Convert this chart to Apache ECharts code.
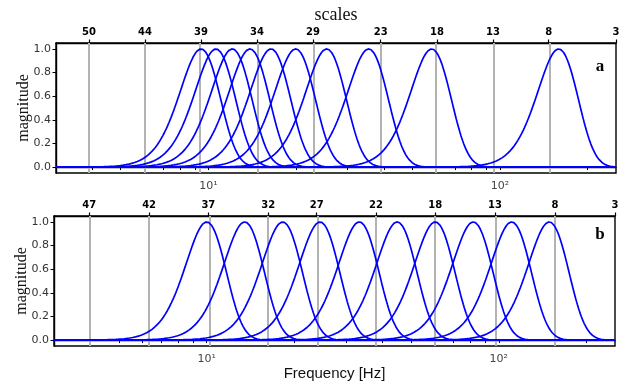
<!DOCTYPE html>
<html>
<head>
<meta charset="utf-8">
<script src="https://cdn.jsdelivr.net/npm/echarts@6/dist/echarts.min.js"></script>
<style>
  html, body { margin: 0; padding: 0; background: #ffffff; }
  #chart { width: 628px; height: 383px; }
</style>
</head>
<body>
<div id="chart"></div>
<script>
// ---------------- data ----------------
const freqMin = 3;      // Hz, left edge of both panels
const freqMax = 250;    // Hz, right edge of both panels

// centre frequencies (Hz) of the filter responses
const centersA = [9.43, 10.61, 12.07, 13.88, 16.39, 19.92, 25.44, 35.45, 58.3, 159.0];
const centersB = [10.0, 13.49, 18.20, 24.43, 33.3, 44.9, 60.6, 81.8, 110.7, 148.9];
// relative bandwidth (sigma / centre frequency) of the gaussian responses
const bandwidthA = 0.16;
const bandwidthB = 0.16;

// top "scales" axis: labels and the frequencies where they sit
const scaleLabelsA = ['50', '44', '39', '34', '29', '23', '18', '13', '8', '3'];
const scaleFreqsA  = [3.89, 6.06, 9.43, 14.67, 22.84, 38.98, 60.8, 94.6, 146.9, 250];
const scaleLabelsB = ['47', '42', '37', '32', '27', '22', '18', '13', '8', '3'];
const scaleFreqsB  = [3.96, 6.35, 10.13, 16.25, 23.8, 37.97, 60.6, 97.0, 155.8, 250];

// bottom frequency axis ticks
const majorFreqTicks  = [10, 100];
const majorFreqLabels = ['10\u00b9', '10\u00b2'];
const minorFreqTicks  = [3, 4, 5, 6, 7, 8, 9, 20, 30, 40, 50, 60, 70, 80, 90, 200];

// magnitude axis
const yTicks = [0, 0.2, 0.4, 0.6, 0.8, 1.0];
const yMin = -0.05, yMax = 1.05;

// ---------------- helpers ----------------
const L = Math.log10;
const uMin = L(freqMin), uMax = L(freqMax);
const nSamples = 600;
const sampleU = [];
for (let i = 0; i < nSamples; i++) sampleU.push(uMin + (uMax - uMin) * i / (nSamples - 1));

function response(f, fc, bw) {          // gaussian (Morlet-like) response in linear frequency
  const d = (f - fc) / (bw * fc);
  return Math.exp(-0.5 * d * d);
}
function curve(fc, bw) {
  return sampleU.map(u => [u, response(Math.pow(10, u), fc, bw)]);
}
function nearestLabel(v, freqs, labels) {
  let best = 0, bd = Infinity;
  freqs.forEach((f, i) => { const d = Math.abs(L(f) - v); if (d < bd) { bd = d; best = i; } });
  return labels[best];
}

const tickFont = 'DejaVu Sans';
const spine = { show: true, lineStyle: { color: '#000', width: 1.4 } };

function bottomAxis(gridIndex, withName) {
  const ax = {
    type: 'value', gridIndex, position: 'bottom', min: uMin, max: uMax,
    axisLine: spine,
    splitLine: { show: false },
    axisTick: { show: true, length: 3, lineStyle: { color: '#000', width: 1 },
      customValues: majorFreqTicks.concat(minorFreqTicks).map(L) },
    axisLabel: { show: true, margin: 8, color: '#444', fontFamily: tickFont, fontSize: 11,
      customValues: majorFreqTicks.map(L),
      formatter: v => majorFreqLabels[Math.abs(v - 1) < 0.01 ? 0 : 1] }
  };
  if (withName) {
    ax.name = 'Frequency [Hz]';
    ax.nameLocation = 'middle';
    ax.nameGap = 19;
    ax.nameTextStyle = { fontFamily: 'Liberation Sans', fontSize: 15, color: '#111' };
  }
  return ax;
}
function topAxis(gridIndex, freqs, labels, withName) {
  const ax = {
    type: 'value', gridIndex, position: 'top', min: uMin, max: uMax,
    axisLine: spine,
    splitLine: { show: false },
    axisTick: { show: true, length: 3.5, lineStyle: { color: '#000', width: 1.2 },
      customValues: freqs.map(L) },
    axisLabel: { show: true, margin: 6, color: '#000', fontWeight: 'bold', fontFamily: tickFont, fontSize: 10,
      customValues: freqs.map(L),
      formatter: v => nearestLabel(v, freqs, labels) }
  };
  if (withName) {
    ax.name = 'scales';
    ax.nameLocation = 'middle';
    ax.nameGap = 19;
    ax.nameTextStyle = { fontFamily: 'Liberation Serif', fontSize: 18, color: '#111' };
  }
  return ax;
}
function yAxis(gridIndex) {
  return {
    type: 'value', gridIndex, min: yMin, max: yMax,
    name: 'magnitude', nameLocation: 'middle', nameRotate: 90, nameGap: 24,
    nameMoveOverlap: false,
    nameTextStyle: { fontFamily: 'Liberation Serif', fontSize: 16, color: '#111' },
    axisLine: spine,
    splitLine: { show: false },
    axisTick: { show: true, length: 3.5, lineStyle: { color: '#000', width: 1 }, customValues: yTicks },
    axisLabel: { show: true, margin: 5, color: '#333', fontFamily: tickFont, fontSize: 11,
      customValues: yTicks, formatter: v => v.toFixed(1) }
  };
}

const series = [];
function addPanel(centers, bw, scaleFreqs, xIdx, yIdx) {
  centers.forEach((fc, i) => {
    const s = {
      type: 'line', xAxisIndex: xIdx, yAxisIndex: yIdx, z: 3,
      showSymbol: false, symbol: 'none', silent: true, animation: false,
      lineStyle: { color: '#0000ff', width: 1.7 },
      data: curve(fc, bw)
    };
    if (i === 0) {
      s.markLine = {
        silent: true, z: 1, animation: false, symbol: ['none', 'none'],
        label: { show: false },
        lineStyle: { color: '#b3b3b3', width: 2, type: 'solid' },
        data: scaleFreqs.filter(f => f < freqMax).map(f => ({ xAxis: L(f) }))
      };
    }
    series.push(s);
  });
}
addPanel(centersA, bandwidthA, scaleFreqsA, 0, 0);
addPanel(centersB, bandwidthB, scaleFreqsB, 2, 1);

const option = {
  animation: false,
  backgroundColor: '#ffffff',
  grid: [
    { left: 56, right: 12, top: 43, height: 130, show: true, borderColor: '#000', borderWidth: 1.4, backgroundColor: 'transparent' },
    { left: 54, right: 13, top: 216, height: 130, show: true, borderColor: '#000', borderWidth: 1.4, backgroundColor: 'transparent' }
  ],
  xAxis: [
    bottomAxis(0, false),
    topAxis(0, scaleFreqsA, scaleLabelsA, true),
    bottomAxis(1, true),
    topAxis(1, scaleFreqsB, scaleLabelsB, false)
  ],
  yAxis: [yAxis(0), yAxis(1)],
  series,
  graphic: [
    { type: 'text', x: 600, y: 67, style: { text: 'a', fill: '#000', font: 'bold 17px "Liberation Serif"', align: 'center', verticalAlign: 'middle' } },
    { type: 'text', x: 600, y: 235, style: { text: 'b', fill: '#000', font: 'bold 17px "Liberation Serif"', align: 'center', verticalAlign: 'middle' } }
  ]
};

const chart = echarts.init(document.getElementById('chart'), null, { renderer: 'canvas' });
chart.setOption(option);
</script>
</body>
</html>
